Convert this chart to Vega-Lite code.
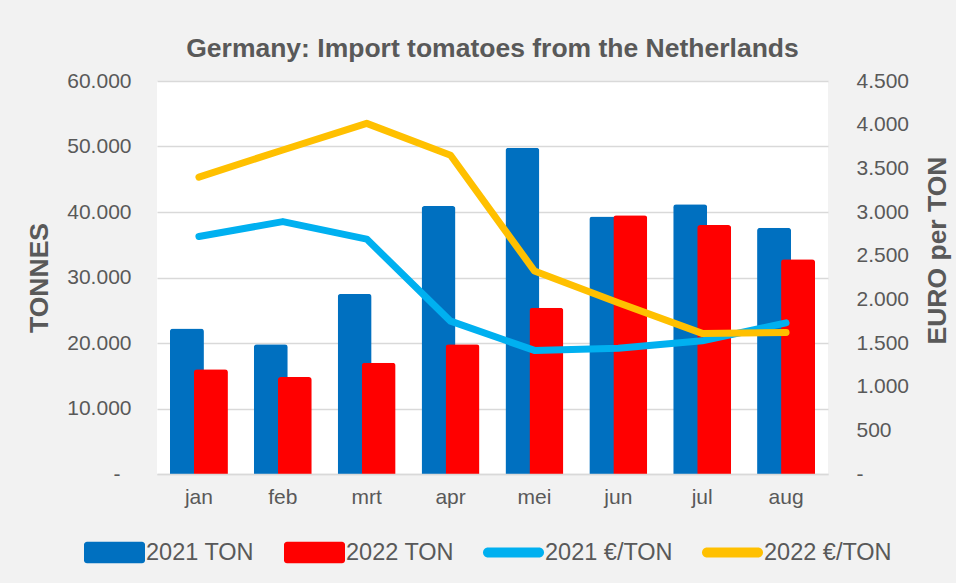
{
  "$schema": "https://vega.github.io/schema/vega-lite/v6.json",
  "width": 671,
  "height": 393,
  "autosize": "none",
  "padding": {"left": 157, "top": 81, "right": 128, "bottom": 109},
  "background": "#F2F2F2",
  "config": {
    "locale": {"number": {"decimal": ",", "thousands": ".", "grouping": [3], "currency": ["€", ""]}},
    "view": {"fill": "#FFFFFF", "stroke": null},
    "font": "Liberation Sans",
    "axis": {"labelColor": "#595959", "titleColor": "#595959", "labelFont": "Liberation Sans", "titleFont": "Liberation Sans"}
  },
  "title": {
    "text": "Germany: Import tomatoes from the Netherlands",
    "fontSize": 26.5,
    "fontWeight": "bold",
    "color": "#595959",
    "font": "Liberation Sans",
    "anchor": "middle",
    "baseline": "alphabetic",
    "offset": -13
  },
  "data": {
    "values": [
      {"month": "jan", "series": "2021 TON", "value": 22200},
      {"month": "feb", "series": "2021 TON", "value": 19800},
      {"month": "mrt", "series": "2021 TON", "value": 27500},
      {"month": "apr", "series": "2021 TON", "value": 40900},
      {"month": "mei", "series": "2021 TON", "value": 49800},
      {"month": "jun", "series": "2021 TON", "value": 39300},
      {"month": "jul", "series": "2021 TON", "value": 41200},
      {"month": "aug", "series": "2021 TON", "value": 37600},
      {"month": "jan", "series": "2022 TON", "value": 16000},
      {"month": "feb", "series": "2022 TON", "value": 14800},
      {"month": "mrt", "series": "2022 TON", "value": 17000},
      {"month": "apr", "series": "2022 TON", "value": 19800},
      {"month": "mei", "series": "2022 TON", "value": 25400},
      {"month": "jun", "series": "2022 TON", "value": 39500},
      {"month": "jul", "series": "2022 TON", "value": 38000},
      {"month": "aug", "series": "2022 TON", "value": 32800},
      {"month": "jan", "series": "2021 €/TON", "value": 2720},
      {"month": "feb", "series": "2021 €/TON", "value": 2890},
      {"month": "mrt", "series": "2021 €/TON", "value": 2690},
      {"month": "apr", "series": "2021 €/TON", "value": 1750},
      {"month": "mei", "series": "2021 €/TON", "value": 1415},
      {"month": "jun", "series": "2021 €/TON", "value": 1440},
      {"month": "jul", "series": "2021 €/TON", "value": 1525},
      {"month": "aug", "series": "2021 €/TON", "value": 1730},
      {"month": "jan", "series": "2022 €/TON", "value": 3400},
      {"month": "feb", "series": "2022 €/TON", "value": 3710},
      {"month": "mrt", "series": "2022 €/TON", "value": 4015},
      {"month": "apr", "series": "2022 €/TON", "value": 3650},
      {"month": "mei", "series": "2022 €/TON", "value": 2325},
      {"month": "jun", "series": "2022 €/TON", "value": 1960},
      {"month": "jul", "series": "2022 €/TON", "value": 1610},
      {"month": "aug", "series": "2022 €/TON", "value": 1620}
    ]
  },
  "encoding": {
    "x": {
      "field": "month",
      "type": "nominal",
      "sort": ["jan", "feb", "mrt", "apr", "mei", "jun", "jul", "aug"],
      "scale": {"paddingInner": 0, "paddingOuter": 0},
      "axis": {
        "title": null,
        "labelAngle": 0,
        "labelFontSize": 21,
        "labelPadding": 12,
        "ticks": false,
        "domain": true,
        "domainColor": "#D9D9D9",
        "domainWidth": 1.5,
        "grid": false,
        "zindex": 1
      }
    },
    "color": {
      "field": "series",
      "type": "nominal",
      "scale": {
        "domain": ["2021 TON", "2022 TON", "2021 €/TON", "2022 €/TON"],
        "range": ["#0070C0", "#FF0000", "#00B0F0", "#FFC000"]
      },
      "legend": {
        "orient": "none",
        "legendX": -73,
        "legendY": 441,
        "direction": "horizontal",
        "columns": 4,
        "title": null,
        "labelFontSize": 23.5,
        "labelColor": "#595959",
        "labelFont": "Liberation Sans",
        "columnPadding": 29,
        "labelOffset": 1,
        "symbolSize": 3721,
        "encode": {
          "symbols": {
            "update": {
              "shape": {"signal": "indexof(datum.value, '€') >= 0 ? 'M-0.836,-0.164H0.836A0.164,0.164 0 0 1 0.836,0.164H-0.836A0.164,0.164 0 0 1 -0.836,-0.164Z' : 'M-0.9,-0.356H0.9A0.1,0.1 0 0 1 1,-0.256V0.256A0.1,0.1 0 0 1 0.9,0.356H-0.9A0.1,0.1 0 0 1 -1,0.256V-0.256A0.1,0.1 0 0 1 -0.9,-0.356Z'"},
              "fill": {"signal": "scale('color', datum.value)"},
              "stroke": {"value": "transparent"},
              "strokeWidth": {"value": 0},
              "opacity": {"value": 1}
            }
          }
        }
      }
    }
  },
  "layer": [
    {
      "encoding": {
        "y": {
          "field": "value",
          "type": "quantitative",
          "scale": {"domain": [0, 60000]},
          "axis": {
            "title": "TONNES",
            "titleFontSize": 26.5,
            "titleFontWeight": "bold",
            "titlePadding": 13,
            "labelFontSize": 21,
            "labelPadding": {"condition": {"test": "datum.value == 0", "value": 37}, "value": 26},
            "ticks": false,
            "domain": false,
            "grid": true,
            "gridColor": "#D9D9D9",
            "gridWidth": 1.5,
            "values": [0, 10000, 20000, 30000, 40000, 50000, 60000],
            "format": ",.0f",
            "labelExpr": "datum.value == 0 ? '-' : datum.label"
          }
        }
      },
      "layer": [
        {
          "transform": [{"filter": "datum.series == '2021 TON'"}],
          "mark": {"type": "bar", "width": 34, "xOffset": -12, "cornerRadiusEnd": 3}
        },
        {
          "transform": [{"filter": "datum.series == '2022 TON'"}],
          "mark": {"type": "bar", "width": 34, "xOffset": 12, "cornerRadiusEnd": 3}
        }
      ]
    },
    {
      "transform": [{"filter": "indexof(datum.series, '€') >= 0"}],
      "mark": {"type": "line", "strokeWidth": 7, "strokeCap": "round", "strokeJoin": "round"},
      "encoding": {
        "y": {
          "field": "value",
          "type": "quantitative",
          "scale": {"domain": [0, 4500]},
          "axis": {
            "orient": "right",
            "title": "EURO per TON",
            "titleAngle": 270,
            "titleY": 169,
            "titleFontSize": 26.5,
            "titleFontWeight": "bold",
            "titlePadding": 43,
            "labelFontSize": 21,
            "labelPadding": 28,
            "ticks": false,
            "domain": false,
            "grid": false,
            "values": [0, 500, 1000, 1500, 2000, 2500, 3000, 3500, 4000, 4500],
            "format": ",.0f",
            "labelExpr": "datum.value == 0 ? '-' : datum.label"
          }
        }
      }
    }
  ],
  "resolve": {"scale": {"y": "independent"}}
}
